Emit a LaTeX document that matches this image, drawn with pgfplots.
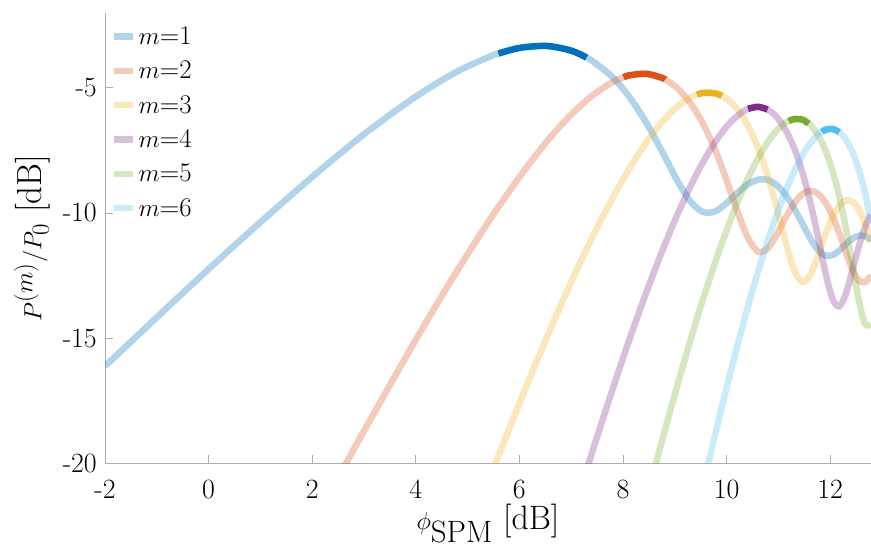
\documentclass[border=0pt]{standalone}
\usepackage{pgfplots}
\pgfplotsset{compat=1.18}
\usepackage{pgfplotstable}

\definecolor{c1}{rgb}{0,0.447,0.741}
\definecolor{c2}{rgb}{0.85,0.325,0.098}
\definecolor{c3}{rgb}{0.929,0.694,0.125}
\definecolor{c4}{rgb}{0.494,0.184,0.556}
\definecolor{c5}{rgb}{0.466,0.674,0.188}
\definecolor{c6}{rgb}{0.301,0.745,0.933}
\definecolor{axgray}{gray}{0.68}

% sideband power P^(m)/P_0 [dB] versus phi_SPM [dB], one table per order m
\pgfplotstableread{
x y
-2.0 -16.12
-1.0 -14.17
0.0 -12.24
1.0 -10.37
2.0 -8.56
3.010 -6.84
3.979 -5.38
4.771 -4.38
5.441 -3.74
5.594 -3.63
6.021 -3.40
6.532 -3.33
6.990 -3.51
7.300 -3.79
7.403 -3.92
7.782 -4.54
8.129 -5.38
8.451 -6.40
8.751 -7.53
9.031 -8.64
9.294 -9.52
9.542 -9.96
9.777 -9.94
10.000 -9.61
10.212 -9.19
10.414 -8.85
10.607 -8.67
10.792 -8.68
10.969 -8.89
11.139 -9.28
11.303 -9.81
11.461 -10.42
11.614 -11.01
11.761 -11.47
11.903 -11.70
12.041 -11.69
12.175 -11.50
12.304 -11.24
12.430 -11.02
12.553 -10.91
12.672 -10.93
12.788 -11.08
}\mone
\pgfplotstableread{
x y
2.304 -21.3
2.648 -20.02
3.010 -18.67
3.979 -15.14
4.771 -12.40
5.441 -10.23
6.021 -8.51
6.532 -7.14
6.990 -6.09
7.403 -5.32
7.782 -4.79
8.010 -4.58
8.129 -4.50
8.451 -4.44
8.751 -4.60
8.815 -4.67
9.031 -4.98
9.294 -5.59
9.542 -6.42
9.777 -7.47
10.000 -8.69
10.212 -9.95
10.414 -11.00
10.607 -11.54
10.792 -11.42
10.969 -10.86
11.139 -10.19
11.303 -9.62
11.461 -9.25
11.614 -9.11
11.761 -9.22
11.903 -9.57
12.041 -10.11
12.175 -10.81
12.304 -11.58
12.430 -12.27
12.553 -12.70
12.672 -12.76
12.788 -12.50
}\mtwo
\pgfplotstableread{
x y
4.771 -24.1
5.441 -20.52
6.021 -17.50
6.532 -14.96
6.990 -12.81
7.403 -10.99
7.782 -9.47
8.129 -8.21
8.451 -7.18
8.751 -6.38
9.031 -5.78
9.294 -5.39
9.430 -5.28
9.542 -5.20
9.777 -5.22
9.910 -5.32
10.000 -5.43
10.212 -5.87
10.414 -6.52
10.607 -7.40
10.792 -8.51
10.969 -9.80
11.139 -11.15
11.303 -12.27
11.461 -12.76
11.614 -12.48
11.761 -11.73
11.903 -10.89
12.041 -10.18
12.175 -9.71
12.304 -9.50
12.430 -9.55
12.553 -9.86
12.672 -10.41
12.788 -11.15
}\mthree
\pgfplotstableread{
x y
6.990 -22.35
7.403 -19.57
7.782 -17.15
8.129 -15.02
8.451 -13.17
8.751 -11.55
9.031 -10.16
9.294 -8.97
9.542 -7.98
9.777 -7.17
10.000 -6.55
10.212 -6.11
10.414 -5.84
10.607 -5.76
10.792 -5.87
10.969 -6.17
11.139 -6.68
11.303 -7.40
11.461 -8.36
11.614 -9.55
11.761 -10.92
11.903 -12.33
12.041 -13.41
12.175 -13.73
12.304 -13.22
12.430 -12.28
12.553 -11.34
12.672 -10.57
12.788 -10.07
}\mfour
\pgfplotstableread{
x y
8.451 -21.47
8.751 -19.12
9.031 -17.02
9.294 -15.14
9.542 -13.46
9.777 -11.99
10.000 -10.69
10.212 -9.56
10.414 -8.61
10.607 -7.81
10.792 -7.18
10.969 -6.70
11.139 -6.39
11.200 -6.33
11.303 -6.25
11.461 -6.27
11.585 -6.43
11.614 -6.47
11.761 -6.87
11.903 -7.47
12.041 -8.28
12.175 -9.34
12.304 -10.62
12.430 -12.08
12.553 -13.49
12.672 -14.43
12.788 -14.45
}\mfive
\pgfplotstableread{
x y
9.542 -20.96
9.777 -18.87
10.000 -16.99
10.212 -15.27
10.414 -13.72
10.607 -12.35
10.792 -11.12
10.969 -10.05
11.139 -9.12
11.303 -8.34
11.461 -7.70
11.614 -7.22
11.761 -6.87
11.840 -6.76
11.903 -6.68
12.041 -6.64
12.175 -6.77
12.304 -7.08
12.430 -7.57
12.553 -8.27
12.672 -9.19
12.788 -10.36
}\msix

\begin{document}
\begin{tikzpicture}
\begin{axis}[
  scale only axis, width=766bp, height=450.6bp,
  xmin=-2, xmax=12.788, ymin=-20, ymax=-2,
  axis x line*=bottom, axis y line*=left,
  axis line style={draw=axgray, line width=0.8bp},
  every tick/.style={draw=axgray, line width=0.8bp},
  tick align=inside, major tick length=8bp,
  xtick={-2,0,...,12}, ytick={-20,-15,-10,-5},
  /pgf/number format/assume math mode=true,
  tick label style={font=\fontsize{28}{32}\selectfont},
  xticklabel style={anchor=base, yshift=-35bp, inner sep=0pt},
  yticklabel style={anchor=east, xshift=-8bp, inner sep=0pt},
  xlabel={$\phi_{\mbox{\fontsize{31}{34}\selectfont SPM}}$\ [dB]},
  ylabel={$P^{(m)}/P_0$ [dB]},
  every axis x label/.style={at={(rel axis cs:0.5,0)}, anchor=center,
    yshift=-60bp, inner sep=0pt, font=\fontsize{34}{37}\selectfont},
  every axis y label/.style={at={(rel axis cs:0,0.5)}, anchor=center,
    rotate=90, yshift=73bp, font=\fontsize{35}{38}\selectfont},
  legend style={draw=none, fill=none, at={(0,1)}, anchor=north west,
    xshift=6bp, yshift=-12bp, font=\fontsize{27}{30}\selectfont,
    inner sep=0pt, row sep=11bp},
  legend cell align=left,
  legend image code/.code={\draw[#1, line width=6.5bp] (0bp,0bp) -- (19bp,0bp);},
  every axis plot/.append style={line width=6.5bp, smooth},
  clip=true,
]
\addplot[c1, draw opacity=0.3] table {\mone};
\addplot[c2, draw opacity=0.3] table {\mtwo};
\addplot[c3, draw opacity=0.3] table {\mthree};
\addplot[c4, draw opacity=0.3] table {\mfour};
\addplot[c5, draw opacity=0.3] table {\mfive};
\addplot[c6, draw opacity=0.3] table {\msix};
\legend{$m$=1,$m$=2,$m$=3,$m$=4,$m$=5,$m$=6}
% peak regions in full colour
\addplot[c1, restrict x to domain=5.59:7.31, forget plot] table {\mone};
\addplot[c2, restrict x to domain=8.0:8.82, forget plot] table {\mtwo};
\addplot[c3, restrict x to domain=9.42:9.92, forget plot] table {\mthree};
\addplot[c4, restrict x to domain=10.41:10.80, forget plot] table {\mfour};
\addplot[c5, restrict x to domain=11.19:11.59, forget plot] table {\mfive};
\addplot[c6, restrict x to domain=11.83:12.18, forget plot] table {\msix};
\end{axis}
\pgfresetboundingbox
\path ([xshift=-105bp,yshift=-84.7bp]current axis.south west) rectangle ([yshift=12.7bp]current axis.north east);
\end{tikzpicture}
\end{document}
